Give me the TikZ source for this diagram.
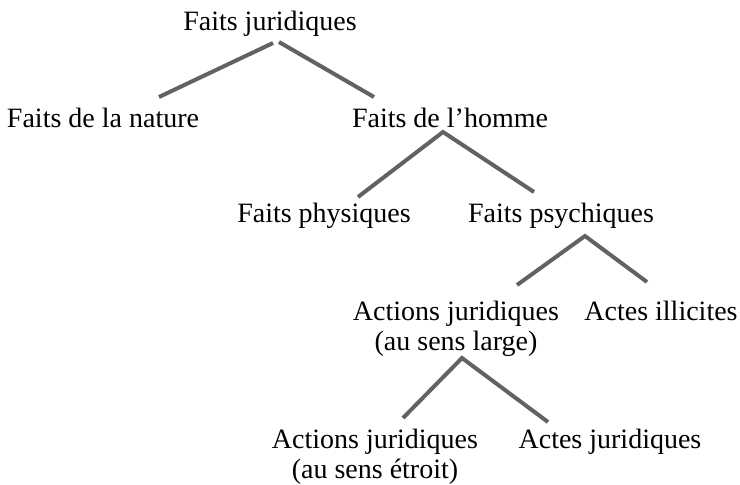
\documentclass[tikz,border=0pt]{standalone}
\usepackage{fontspec}
\setmainfont{Liberation Serif}
\definecolor{branchgray}{RGB}{98,98,98}
\begin{document}
\begin{tikzpicture}[x=0.5pt, y=-0.5pt,
    lbl/.style = {anchor=base, inner sep=0pt, align=center,
      font=\fontsize{14}{15}\selectfont},
    branch/.style = {draw=branchgray, line width=2pt}]
  \useasboundingbox (0,0) rectangle (740,484);
  \node[lbl] (fj) at (270,30) {Faits juridiques};
  \node[lbl] (nat) at (103,127) {Faits de la nature};
  \node[lbl] (hom) at (450,127) {Faits de l’homme};
  \node[lbl] (phy) at (324,222) {Faits physiques};
  \node[lbl] (psy) at (561,222) {Faits psychiques};
  \node[lbl] (ajl) at (456,350) {Actions juridiques\\(au sens large)};
  \node[lbl] (ill) at (661,320) {Actes illicites};
  \node[lbl] (aje) at (375,478) {Actions juridiques\\(au sens étroit)};
  \node[lbl] (acj) at (610,448) {Actes juridiques};
  \draw[branch] ([shift={(3,13)}]fj.base) -- ([shift={(56,-30)}]nat.base);
  \draw[branch] ([shift={(9,12)}]fj.base) -- ([shift={(-76,-30)}]hom.base);
  \draw[branch] ([shift={(34,-25)}]phy.base) -- ([shift={(-7,5)}]hom.base)
    -- ([shift={(-27,-30)}]psy.base);
  \draw[branch] ([shift={(61,-65)}]ajl.base) -- ([shift={(24,14)}]psy.base)
    -- ([shift={(-14,-38)}]ill.base);
  \draw[branch] ([shift={(28,-60)}]aje.base) -- ([shift={(6,8)}]ajl.base)
    -- ([shift={(-62,-26)}]acj.base);
\end{tikzpicture}
\end{document}
